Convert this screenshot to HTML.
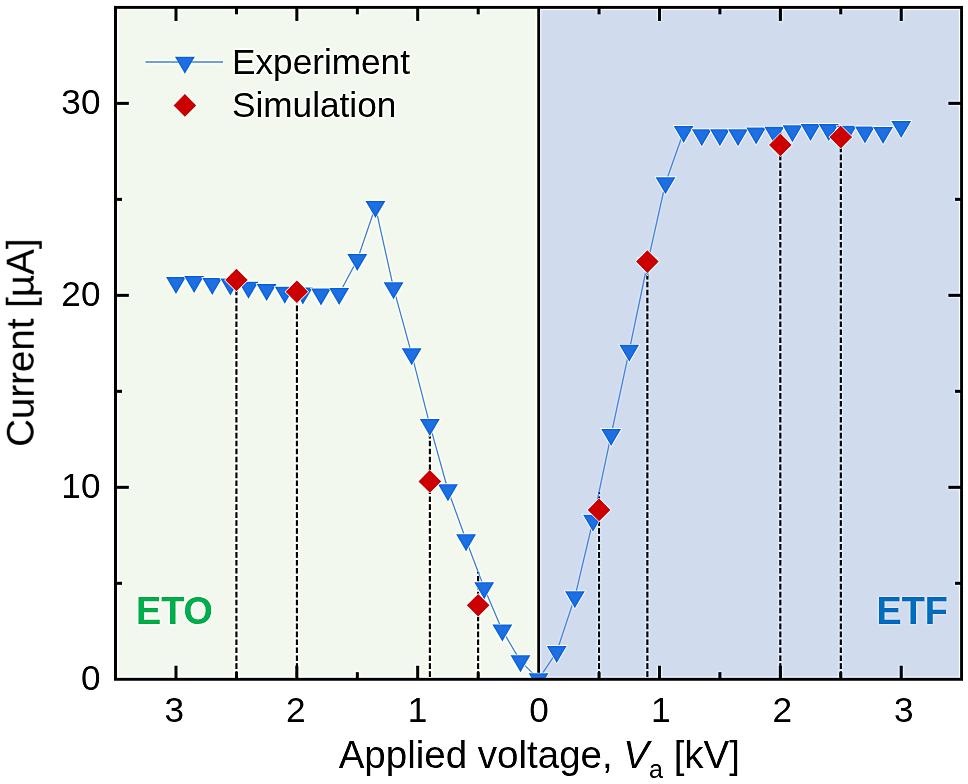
<!DOCTYPE html>
<html><head><meta charset="utf-8"><title>chart</title>
<style>
html,body{margin:0;padding:0;background:#fff;}
body{width:968px;height:784px;overflow:hidden;}
svg{display:block;}
text{font-family:"Liberation Sans",sans-serif;fill:#000;}
</style></head><body>
<svg width="968" height="784" viewBox="0 0 968 784">
<defs><filter id="sh" x="0" y="0" width="968" height="784" filterUnits="userSpaceOnUse" color-interpolation-filters="sRGB"><feGaussianBlur stdDeviation="0.9" result="b"/><feComposite in="SourceGraphic" in2="b" operator="arithmetic" k1="0" k2="1.4" k3="-0.4" k4="0"/></filter><clipPath id="pc"><rect x="115.56" y="7.32" width="846.09" height="671.93"/></clipPath></defs>
<g filter="url(#sh)"><rect x="0" y="0" width="968" height="784" fill="#ffffff"/>

<rect x="115.56" y="7.32" width="423.05" height="671.93" fill="#f3f8ef"/>
<rect x="538.60" y="7.32" width="423.04" height="671.93" fill="#d0dbee"/>
<rect x="117.51" y="9.27" width="842.19" height="668.03" fill="none" stroke="#ffffff" stroke-opacity="0.5" stroke-width="1.1"/>
<path d="M536.80 7.32V679.25M540.60 7.32V679.25" fill="none" stroke="#ffffff" stroke-opacity="0.5" stroke-width="1.1"/>
<g stroke="#000" stroke-width="2.05" stroke-dasharray="5.6 2.35" stroke-dashoffset="5.6" fill="none">
<line x1="236.43" y1="679.25" x2="236.43" y2="285.33"/>
<line x1="296.86" y1="679.25" x2="296.86" y2="293.00"/>
<line x1="429.82" y1="679.25" x2="429.82" y2="424.90"/>
<line x1="478.17" y1="679.25" x2="478.17" y2="572.00"/>
<line x1="599.04" y1="679.25" x2="599.04" y2="491.93"/>
<line x1="647.38" y1="679.25" x2="647.38" y2="264.00"/>
<line x1="780.34" y1="679.25" x2="780.34" y2="132.10"/>
<line x1="840.78" y1="679.25" x2="840.78" y2="131.00"/>
</g>
<line x1="538.70" y1="7.32" x2="538.70" y2="679.25" stroke="#000" stroke-width="2.8"/>
<g stroke="#000" stroke-width="3" fill="none">
<line x1="175.99" y1="679.25" x2="175.99" y2="665.75"/>
<line x1="175.99" y1="7.32" x2="175.99" y2="20.82"/>
<line x1="296.86" y1="679.25" x2="296.86" y2="665.75"/>
<line x1="296.86" y1="7.32" x2="296.86" y2="20.82"/>
<line x1="417.73" y1="679.25" x2="417.73" y2="665.75"/>
<line x1="417.73" y1="7.32" x2="417.73" y2="20.82"/>
<line x1="659.47" y1="679.25" x2="659.47" y2="665.75"/>
<line x1="659.47" y1="7.32" x2="659.47" y2="20.82"/>
<line x1="780.34" y1="679.25" x2="780.34" y2="665.75"/>
<line x1="780.34" y1="7.32" x2="780.34" y2="20.82"/>
<line x1="901.21" y1="679.25" x2="901.21" y2="665.75"/>
<line x1="901.21" y1="7.32" x2="901.21" y2="20.82"/>
<line x1="236.43" y1="679.25" x2="236.43" y2="672.25"/>
<line x1="236.43" y1="7.32" x2="236.43" y2="14.32"/>
<line x1="357.30" y1="679.25" x2="357.30" y2="672.25"/>
<line x1="357.30" y1="7.32" x2="357.30" y2="14.32"/>
<line x1="478.17" y1="679.25" x2="478.17" y2="672.25"/>
<line x1="478.17" y1="7.32" x2="478.17" y2="14.32"/>
<line x1="599.04" y1="679.25" x2="599.04" y2="672.25"/>
<line x1="599.04" y1="7.32" x2="599.04" y2="14.32"/>
<line x1="719.90" y1="679.25" x2="719.90" y2="672.25"/>
<line x1="719.90" y1="7.32" x2="719.90" y2="14.32"/>
<line x1="840.78" y1="679.25" x2="840.78" y2="672.25"/>
<line x1="840.78" y1="7.32" x2="840.78" y2="14.32"/>
<line x1="115.56" y1="487.27" x2="128.75" y2="487.27"/>
<line x1="961.64" y1="487.27" x2="948.44" y2="487.27"/>
<line x1="115.56" y1="295.29" x2="128.75" y2="295.29"/>
<line x1="961.64" y1="295.29" x2="948.44" y2="295.29"/>
<line x1="115.56" y1="103.31" x2="128.75" y2="103.31"/>
<line x1="961.64" y1="103.31" x2="948.44" y2="103.31"/>
<line x1="115.56" y1="583.26" x2="122.06" y2="583.26"/>
<line x1="961.64" y1="583.26" x2="955.14" y2="583.26"/>
<line x1="115.56" y1="391.28" x2="122.06" y2="391.28"/>
<line x1="961.64" y1="391.28" x2="955.14" y2="391.28"/>
<line x1="115.56" y1="199.30" x2="122.06" y2="199.30"/>
<line x1="961.64" y1="199.30" x2="955.14" y2="199.30"/>
</g>
<g clip-path="url(#pc)">
<path fill="none" stroke="#5a93df" stroke-width="1.3" d="M339.16 293.80L357.30 259.90M357.30 259.90L375.43 206.80M375.43 206.80L393.56 288.10M393.56 288.10L411.69 354.10M411.69 354.10L429.82 424.90M429.82 424.90L447.95 490.00M447.95 490.00L466.08 540.00M466.08 540.00L484.21 588.00M484.21 588.00L502.34 630.40M502.34 630.40L520.47 661.10M520.47 661.10L538.60 679.10M538.60 679.10L556.73 651.80M556.73 651.80L574.86 597.10M574.86 597.10L592.99 520.50M592.99 520.50L611.12 434.80M611.12 434.80L629.25 350.60M629.25 350.60L647.38 264.00M647.38 264.00L665.51 183.00M665.51 183.00L683.64 131.80"/>
<g fill="#1e6fe0" stroke="#f8fbfb" stroke-width="1.3" paint-order="stroke" stroke-linejoin="miter">
<path d="M166.04 276.90L185.94 276.90L175.99 293.90Z"/>
<path d="M184.17 276.10L204.07 276.10L194.12 293.10Z"/>
<path d="M202.30 277.90L222.20 277.90L212.25 294.90Z"/>
<path d="M220.43 278.40L240.33 278.40L230.38 295.40Z"/>
<path d="M238.56 281.80L258.46 281.80L248.51 298.80Z"/>
<path d="M256.69 283.90L276.59 283.90L266.64 300.90Z"/>
<path d="M274.82 286.80L294.72 286.80L284.77 303.80Z"/>
<path d="M292.95 287.40L312.85 287.40L302.90 304.40Z"/>
<path d="M311.08 288.40L330.98 288.40L321.03 305.40Z"/>
<path d="M329.21 288.00L349.11 288.00L339.16 305.00Z"/>
<path d="M347.35 254.10L367.25 254.10L357.30 271.10Z"/>
<path d="M365.48 201.00L385.38 201.00L375.43 218.00Z"/>
<path d="M383.61 282.30L403.51 282.30L393.56 299.30Z"/>
<path d="M401.74 348.30L421.64 348.30L411.69 365.30Z"/>
<path d="M419.87 419.10L439.77 419.10L429.82 436.10Z"/>
<path d="M438.00 484.20L457.90 484.20L447.95 501.20Z"/>
<path d="M456.13 534.20L476.03 534.20L466.08 551.20Z"/>
<path d="M474.26 582.20L494.16 582.20L484.21 599.20Z"/>
<path d="M492.39 624.60L512.29 624.60L502.34 641.60Z"/>
<path d="M510.52 655.30L530.42 655.30L520.47 672.30Z"/>
<path d="M528.65 673.30L548.55 673.30L538.60 690.30Z"/>
<path d="M546.78 646.00L566.68 646.00L556.73 663.00Z"/>
<path d="M564.91 591.30L584.81 591.30L574.86 608.30Z"/>
<path d="M583.04 514.70L602.94 514.70L592.99 531.70Z"/>
<path d="M601.17 429.00L621.07 429.00L611.12 446.00Z"/>
<path d="M619.30 344.80L639.20 344.80L629.25 361.80Z"/>
<path d="M637.43 258.20L657.33 258.20L647.38 275.20Z"/>
<path d="M655.56 177.20L675.46 177.20L665.51 194.20Z"/>
<path d="M673.69 126.00L693.59 126.00L683.64 143.00Z"/>
<path d="M691.82 129.30L711.72 129.30L701.77 146.30Z"/>
<path d="M709.95 129.30L729.86 129.30L719.90 146.30Z"/>
<path d="M728.09 129.30L747.99 129.30L738.04 146.30Z"/>
<path d="M746.22 127.50L766.12 127.50L756.17 144.50Z"/>
<path d="M764.35 126.80L784.25 126.80L774.30 143.80Z"/>
<path d="M782.48 125.30L802.38 125.30L792.43 142.30Z"/>
<path d="M800.61 124.00L820.51 124.00L810.56 141.00Z"/>
<path d="M818.74 124.00L838.64 124.00L828.69 141.00Z"/>
<path d="M836.87 125.80L856.77 125.80L846.82 142.80Z"/>
<path d="M855.00 126.50L874.90 126.50L864.95 143.50Z"/>
<path d="M873.13 127.00L893.03 127.00L883.08 144.00Z"/>
<path d="M891.26 121.00L911.16 121.00L901.21 138.00Z"/>
</g>
<g fill="#cc0000" stroke="#f8fbfb" stroke-width="1.3" paint-order="stroke" stroke-linejoin="miter">
<path d="M236.43 268.70L247.73 280.00L236.43 291.30L225.12 280.00Z"/>
<path d="M296.86 280.40L308.16 291.70L296.86 303.00L285.56 291.70Z"/>
<path d="M429.82 470.10L441.12 481.40L429.82 492.70L418.52 481.40Z"/>
<path d="M478.17 594.00L489.47 605.30L478.17 616.60L466.87 605.30Z"/>
<path d="M599.04 498.60L610.34 509.90L599.04 521.20L587.74 509.90Z"/>
<path d="M647.38 250.30L658.68 261.60L647.38 272.90L636.08 261.60Z"/>
<path d="M780.34 133.60L791.64 144.90L780.34 156.20L769.04 144.90Z"/>
<path d="M840.78 125.80L852.08 137.10L840.78 148.40L829.48 137.10Z"/>
</g></g>
<rect x="115.56" y="7.32" width="846.09" height="671.93" fill="none" stroke="#000" stroke-width="2.9"/>
<line x1="145.5" y1="62" x2="223" y2="62" stroke="#5a93df" stroke-width="1.3"/>
<path d="M174.95 56.80L194.85 56.80L184.90 73.80Z" fill="#1e6fe0"/>
<path d="M184.90 94.10L196.20 105.40L184.90 116.70L173.60 105.40Z" fill="#cc0000"/>
<text x="232" y="74.4" font-size="35.2">Experiment</text>
<text x="232" y="116.8" font-size="35.2">Simulation</text>
<text x="174.30" y="722" font-size="35.2" text-anchor="middle">3</text>
<text x="295.90" y="722" font-size="35.2" text-anchor="middle">2</text>
<text x="417.50" y="722" font-size="35.2" text-anchor="middle">1</text>
<text x="539.10" y="722" font-size="35.2" text-anchor="middle">0</text>
<text x="660.70" y="722" font-size="35.2" text-anchor="middle">1</text>
<text x="782.30" y="722" font-size="35.2" text-anchor="middle">2</text>
<text x="903.90" y="722" font-size="35.2" text-anchor="middle">3</text>
<text x="100.5" y="689.55" font-size="35.2" text-anchor="end">0</text>
<text x="100.5" y="497.57" font-size="35.2" text-anchor="end">10</text>
<text x="100.5" y="305.59" font-size="35.2" text-anchor="end">20</text>
<text x="100.5" y="113.61" font-size="35.2" text-anchor="end">30</text>
<text x="338.7" y="768.3" font-size="38.5">Applied voltage, <tspan font-style="italic">V</tspan><tspan font-size="25" dy="10">a</tspan><tspan dy="-10"> [kV]</tspan></text>
<text transform="translate(33.7,446.8) rotate(-90)" font-size="38.5">Current [µA]</text>
<text transform="translate(136,624.1) scale(1,1.04)" font-size="37.7" font-weight="bold" style="fill:#00b050">ETO</text>
<text transform="translate(876.5,624.1) scale(1,1.04)" font-size="37.7" font-weight="bold" style="fill:#0070c0">ETF</text>
</g></svg></body></html>
